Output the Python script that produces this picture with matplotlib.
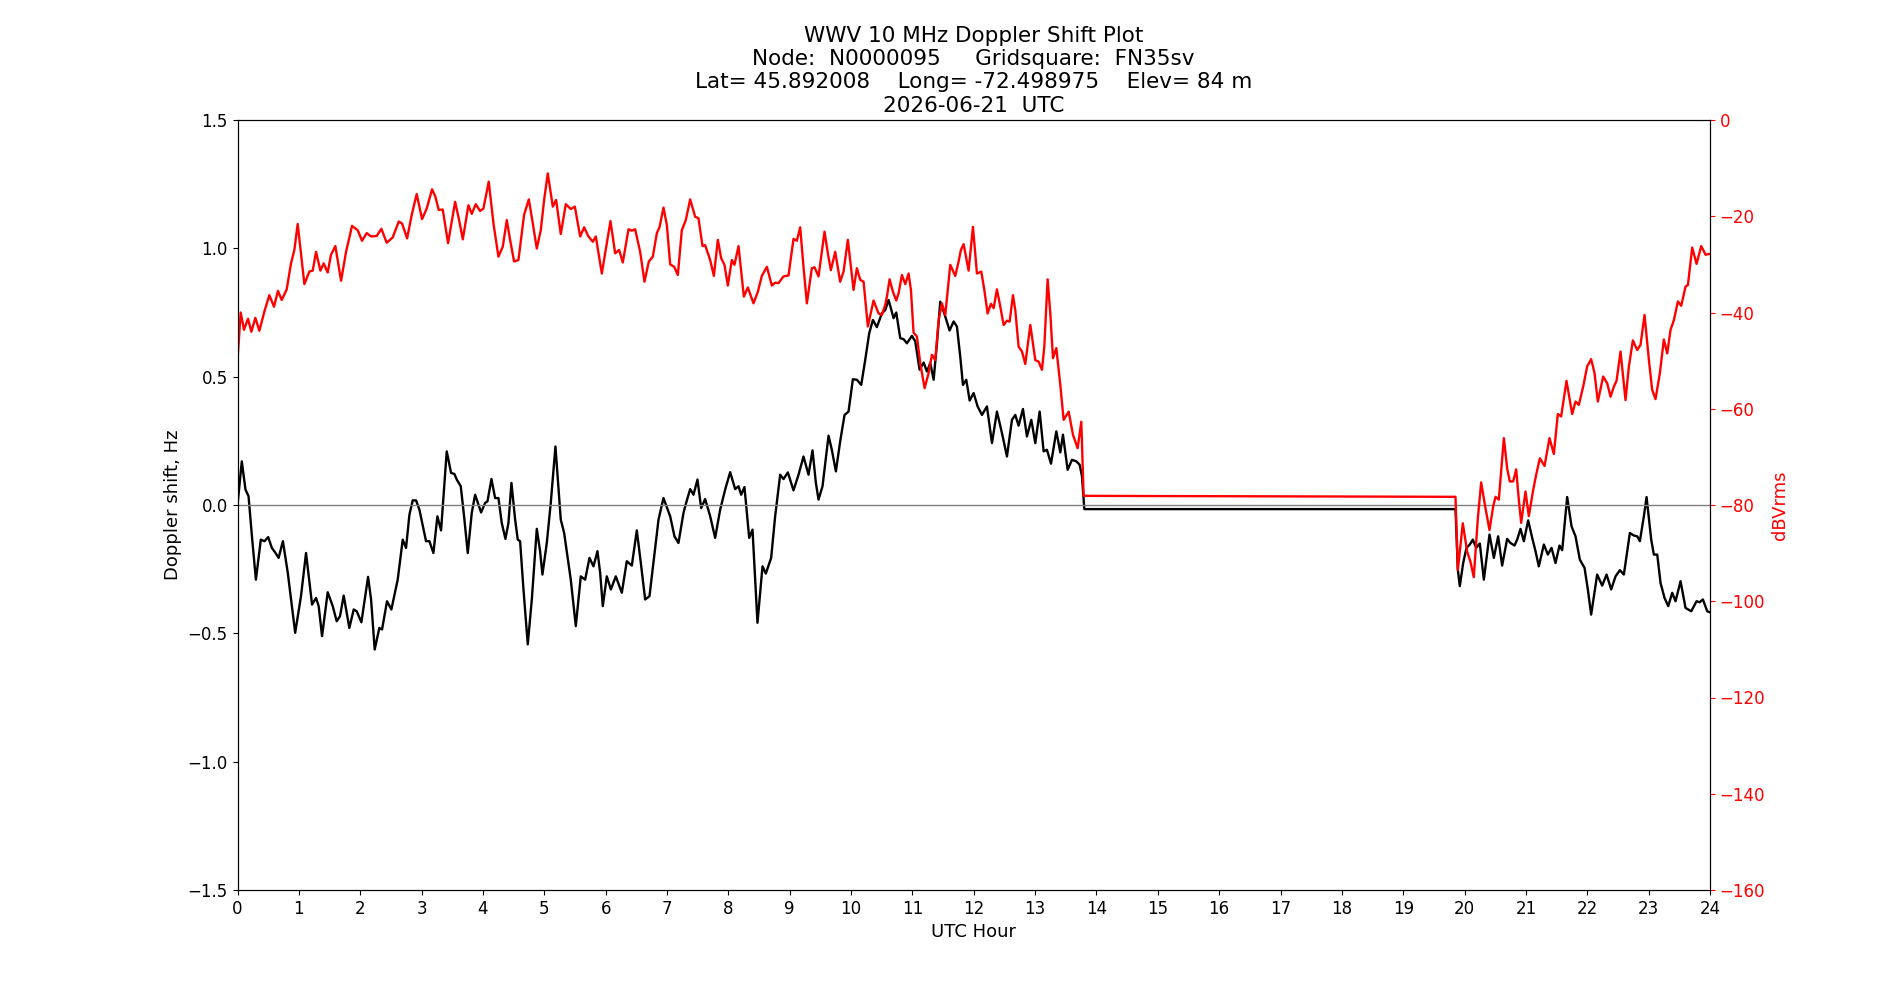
import numpy as np
import matplotlib
matplotlib.use("Agg")
import matplotlib.pyplot as plt

# doppler shift (Hz), by UTC hour
doppler_hours = [0.00, 0.07, 0.13, 0.18, 0.24, 0.30, 0.38, 0.44, 0.50, 0.56, 0.62, 0.67, 0.74, 0.82, 0.94,
                 1.035, 1.117, 1.215, 1.28, 1.323, 1.378, 1.47, 1.552, 1.617, 1.671, 1.731, 1.823, 1.894, 1.943,
                 2.019, 2.128, 2.177, 2.236, 2.312, 2.356, 2.437, 2.508, 2.611, 2.693, 2.747, 2.802, 2.856, 2.910,
                 2.965, 3.073, 3.128, 3.193, 3.258, 3.318, 3.410, 3.481, 3.535, 3.574, 3.639, 3.693, 3.753, 3.818,
                 3.873, 3.927, 3.970, 4.036, 4.074, 4.139, 4.199, 4.253, 4.307, 4.367, 4.416, 4.465, 4.525, 4.568,
                 4.606, 4.661, 4.731, 4.797, 4.878, 4.932, 4.970, 5.041, 5.106, 5.182, 5.269, 5.324, 5.432, 5.514,
                 5.595, 5.666, 5.737, 5.802, 5.867, 5.911, 5.954, 6.019, 6.085, 6.166, 6.264, 6.345, 6.427, 6.508,
                 6.574, 6.644, 6.715, 6.791, 6.862, 6.943, 7.052, 7.122, 7.187, 7.269, 7.312, 7.378, 7.432, 7.497,
                 7.557, 7.622, 7.704, 7.785, 7.867, 7.948, 8.030, 8.111, 8.166, 8.209, 8.263, 8.340, 8.394, 8.475,
                 8.557, 8.611, 8.698, 8.763, 8.845, 8.899, 8.970, 9.062, 9.144, 9.225, 9.307, 9.372, 9.427, 9.470,
                 9.535, 9.633, 9.687, 9.753, 9.823, 9.894, 9.959, 10.030, 10.095, 10.166, 10.231, 10.296, 10.356,
                 10.421, 10.503, 10.558, 10.612, 10.693, 10.737, 10.802, 10.856, 10.911, 10.992, 11.047, 11.117,
                 11.183, 11.237, 11.291, 11.346, 11.400, 11.454, 11.519, 11.606, 11.672, 11.726, 11.780, 11.824,
                 11.878, 11.933, 11.998, 12.063, 12.134, 12.215, 12.297, 12.378, 12.460, 12.541, 12.623, 12.677,
                 12.731, 12.802, 12.867, 12.938, 13.003, 13.074, 13.139, 13.193, 13.259, 13.346, 13.411, 13.454,
                 13.530, 13.601, 13.672, 13.726, 13.764, 13.802, 19.852, 19.890, 19.922, 19.977, 20.031, 20.085,
                 20.134, 20.189, 20.248, 20.314, 20.406, 20.477, 20.547, 20.612, 20.694, 20.748, 20.814, 20.857,
                 20.911, 20.966, 21.036, 21.102, 21.156, 21.210, 21.292, 21.357, 21.417, 21.482, 21.547, 21.591,
                 21.672, 21.743, 21.808, 21.879, 21.955, 22.009, 22.063, 22.161, 22.243, 22.314, 22.390, 22.460,
                 22.531, 22.596, 22.694, 22.759, 22.814, 22.857, 22.922, 22.966, 23.042, 23.085, 23.140, 23.194,
                 23.259, 23.319, 23.384, 23.438, 23.520, 23.601, 23.694, 23.781, 23.830, 23.884, 23.955, 23.998]
doppler_hz = [0.00, 0.17, 0.06, 0.034, -0.135, -0.291, -0.135, -0.141, -0.125, -0.167, -0.187, -0.206, -0.141,
              -0.265, -0.498, -0.355, -0.187, -0.388, -0.362, -0.394, -0.511, -0.340, -0.394, -0.453, -0.433,
              -0.353, -0.479, -0.407, -0.414, -0.457, -0.280, -0.368, -0.563, -0.479, -0.485, -0.375, -0.407,
              -0.291, -0.135, -0.167, -0.038, 0.018, 0.018, -0.018, -0.141, -0.141, -0.187, -0.044, -0.099, 0.209,
              0.125, 0.121, 0.099, 0.073, -0.044, -0.187, -0.031, 0.040, 0.001, -0.029, 0.008, 0.014, 0.101,
              0.027, 0.027, -0.070, -0.132, -0.070, 0.086, -0.057, -0.135, -0.141, -0.329, -0.543, -0.368, -0.093,
              -0.180, -0.271, -0.148, 0.008, 0.228, -0.057, -0.109, -0.291, -0.472, -0.278, -0.291, -0.206,
              -0.239, -0.180, -0.265, -0.394, -0.278, -0.329, -0.278, -0.342, -0.219, -0.236, -0.099, -0.226,
              -0.368, -0.355, -0.200, -0.057, 0.027, -0.044, -0.122, -0.148, -0.031, 0.008, 0.062, 0.040, 0.099,
              -0.012, 0.023, -0.044, -0.128, -0.018, 0.060, 0.128, 0.062, 0.073, 0.040, 0.070, -0.128, -0.096,
              -0.459, -0.239, -0.267, -0.206, -0.044, 0.118, 0.101, 0.127, 0.057, 0.118, 0.189, 0.118, 0.213,
              0.086, 0.021, 0.073, 0.270, 0.215, 0.131, 0.248, 0.351, 0.364, 0.490, 0.488, 0.468, 0.565, 0.669,
              0.721, 0.693, 0.747, 0.760, 0.799, 0.728, 0.750, 0.650, 0.646, 0.630, 0.659, 0.637, 0.527, 0.555,
              0.520, 0.553, 0.488, 0.630, 0.792, 0.747, 0.680, 0.715, 0.695, 0.578, 0.468, 0.488, 0.407, 0.436,
              0.384, 0.351, 0.384, 0.241, 0.364, 0.280, 0.189, 0.332, 0.351, 0.309, 0.374, 0.267, 0.332, 0.241,
              0.364, 0.209, 0.215, 0.161, 0.287, 0.205, 0.274, 0.137, 0.176, 0.170, 0.157, 0.112, -0.016, -0.016,
              -0.252, -0.316, -0.226, -0.167, -0.154, -0.135, -0.167, -0.150, -0.291, -0.115, -0.206, -0.122,
              -0.236, -0.132, -0.148, -0.158, -0.135, -0.093, -0.141, -0.060, -0.128, -0.180, -0.239, -0.154,
              -0.193, -0.167, -0.226, -0.158, -0.176, 0.031, -0.083, -0.122, -0.213, -0.245, -0.329, -0.427,
              -0.271, -0.314, -0.271, -0.329, -0.278, -0.254, -0.271, -0.109, -0.119, -0.122, -0.141, -0.044,
              0.031, -0.135, -0.193, -0.193, -0.304, -0.362, -0.394, -0.342, -0.375, -0.297, -0.401, -0.414,
              -0.375, -0.379, -0.368, -0.414, -0.418]

# received level (dBVrms) by UTC hour
power_hours = [0.00, 0.052, 0.106, 0.171, 0.226, 0.291, 0.356, 0.438, 0.519, 0.595, 0.660, 0.720, 0.802, 0.872,
               0.927, 0.981, 1.035, 1.090, 1.171, 1.226, 1.280, 1.351, 1.405, 1.470, 1.524, 1.595, 1.688, 1.769,
               1.867, 1.959, 2.030, 2.106, 2.177, 2.269, 2.345, 2.432, 2.530, 2.628, 2.682, 2.764, 2.845, 2.921,
               3.008, 3.084, 3.171, 3.225, 3.280, 3.345, 3.432, 3.547, 3.612, 3.672, 3.764, 3.818, 3.883, 3.954,
               4.008, 4.095, 4.172, 4.253, 4.324, 4.389, 4.443, 4.508, 4.579, 4.671, 4.748, 4.813, 4.878, 4.943,
               4.998, 5.057, 5.139, 5.193, 5.269, 5.351, 5.432, 5.498, 5.585, 5.650, 5.715, 5.791, 5.840, 5.938,
               6.019, 6.079, 6.155, 6.220, 6.280, 6.373, 6.427, 6.481, 6.563, 6.633, 6.704, 6.769, 6.835, 6.878,
               6.943, 6.998, 7.052, 7.117, 7.177, 7.242, 7.307, 7.378, 7.459, 7.513, 7.579, 7.622, 7.704, 7.764,
               7.829, 7.883, 7.937, 7.992, 8.057, 8.100, 8.166, 8.253, 8.318, 8.410, 8.481, 8.546, 8.628, 8.709,
               8.763, 8.818, 8.899, 8.981, 9.062, 9.117, 9.171, 9.225, 9.280, 9.361, 9.405, 9.470, 9.568, 9.622,
               9.671, 9.742, 9.823, 9.878, 9.948, 10.041, 10.095, 10.149, 10.204, 10.274, 10.367, 10.448, 10.503,
               10.557, 10.585, 10.628, 10.683, 10.737, 10.775, 10.829, 10.884, 10.938, 10.976, 11.019, 11.074,
               11.128, 11.199, 11.264, 11.318, 11.373, 11.427, 11.481, 11.536, 11.617, 11.699, 11.753, 11.791,
               11.835, 11.916, 11.987, 12.052, 12.123, 12.172, 12.226, 12.280, 12.324, 12.378, 12.433, 12.487,
               12.541, 12.585, 12.639, 12.677, 12.731, 12.786, 12.840, 12.922, 13.003, 13.057, 13.112, 13.150,
               13.204, 13.248, 13.291, 13.346, 13.411, 13.465, 13.547, 13.617, 13.693, 13.753, 13.791, 19.852,
               19.890, 19.971, 20.042, 20.096, 20.150, 20.216, 20.270, 20.341, 20.406, 20.466, 20.504, 20.558,
               20.640, 20.694, 20.737, 20.792, 20.841, 20.884, 20.922, 20.993, 21.047, 21.118, 21.172, 21.227,
               21.303, 21.384, 21.455, 21.520, 21.574, 21.661, 21.754, 21.808, 21.862, 21.933, 21.998, 22.063,
               22.118, 22.172, 22.259, 22.324, 22.379, 22.433, 22.477, 22.542, 22.623, 22.678, 22.743, 22.814,
               22.868, 22.933, 23.004, 23.058, 23.112, 23.183, 23.248, 23.303, 23.357, 23.411, 23.477, 23.531,
               23.602, 23.640, 23.710, 23.781, 23.857, 23.928, 23.998]
power_db = [-49.9, -40.0, -43.6, -41.3, -44.0, -41.1, -43.8, -39.8, -36.4, -38.8, -35.5, -37.4, -35.2, -29.8,
            -27.0, -21.6, -27.7, -34.1, -31.5, -31.3, -27.4, -31.3, -29.8, -31.7, -28.0, -26.2, -33.4, -27.4,
            -22.0, -22.9, -25.1, -23.5, -24.2, -24.1, -22.6, -25.5, -24.4, -21.1, -21.5, -24.6, -19.4, -15.4,
            -20.6, -18.4, -14.4, -15.9, -18.7, -18.6, -25.6, -17.0, -20.8, -24.8, -17.7, -19.5, -17.5, -18.9,
            -18.4, -12.8, -21.5, -28.4, -26.3, -20.8, -24.9, -29.4, -29.1, -19.7, -16.5, -21.5, -26.7, -22.9,
            -16.6, -11.1, -18.0, -16.6, -23.7, -17.5, -18.5, -18.0, -24.2, -22.3, -24.1, -25.3, -24.2, -31.9,
            -25.6, -21.0, -27.7, -27.0, -29.6, -22.7, -23.0, -22.7, -27.4, -33.6, -29.4, -28.4, -23.5, -22.3,
            -18.2, -21.8, -30.0, -30.5, -32.2, -22.9, -20.8, -16.5, -20.1, -20.4, -26.2, -26.0, -29.1, -32.4,
            -24.9, -28.7, -30.1, -34.4, -29.1, -30.1, -26.2, -36.7, -34.8, -38.1, -35.7, -32.4, -30.5, -34.4,
            -33.8, -33.9, -32.5, -32.3, -24.7, -25.1, -22.3, -30.5, -38.1, -30.8, -30.6, -32.5, -23.2, -27.7,
            -31.2, -27.4, -33.6, -31.5, -24.9, -35.3, -30.8, -33.2, -33.6, -42.9, -37.5, -40.2, -40.5,
            -38.4, -36.7, -33.1, -35.7, -37.5, -36.0, -32.2, -34.1, -31.9, -35.3, -44.2, -45.0,
            -50.6, -55.7, -52.6, -48.8, -49.9, -41.6, -38.1, -40.5, -30.1, -32.4, -29.4, -27.0,
            -25.8, -31.3, -22.2, -31.9, -31.5, -35.3, -40.2, -38.2, -39.1, -35.2, -38.8, -42.6,
            -41.7, -41.9, -36.4, -39.5, -47.1, -48.1, -50.7, -42.6, -49.9, -50.2, -51.9, -47.1,
            -33.1, -40.2, -49.5, -47.4, -55.1, -62.3, -60.6, -65.4, -68.2, -62.7, -78.1, -78.3,
            -93.5, -83.8, -89.7, -91.8, -95.0, -82.8, -75.3, -80.7, -85.2, -80.3, -78.3, -78.9,
            -66.1, -72.4, -75.1, -75.1, -72.6, -78.9, -83.7, -77.2, -82.3, -76.9, -73.4, -70.3,
            -71.9, -66.1, -69.4, -61.1, -61.6, -54.2, -61.1, -58.5, -59.2, -55.4, -51.2, -49.7,
            -52.6, -58.5, -53.3, -54.7, -57.5, -55.4, -54.2, -48.1, -58.2, -51.2, -45.8, -47.8,
            -46.7, -40.5, -49.9, -56.1, -58.0, -52.6, -45.6, -48.5, -43.6, -41.6, -37.7, -38.6,
            -34.6, -34.3, -26.5, -29.9, -26.2, -28.0, -27.8]

title = ("WWV 10 MHz Doppler Shift Plot\n"
         "Node:  N0000095     Gridsquare:  FN35sv\n"
         "Lat= 45.892008    Long= -72.498975    Elev= 84 m\n"
         "2026-06-21  UTC")

plt.rcParams['font.size'] = 12

fig = plt.figure(figsize=(19, 10), dpi=100)
fig.subplots_adjust(left=0.125, right=0.9, top=0.88, bottom=0.11)
ax = fig.add_subplot(111)

ax.plot(doppler_hours, doppler_hz, color='k', linewidth=1.7)
ax.axhline(0, color='grey', linewidth=1)
ax.set_xlim(0, 24)
ax.set_ylim(-1.5, 1.5)
ax.set_xticks(np.arange(0, 25, 1))
ax.set_xlabel("UTC Hour", fontsize=13)
ax.set_ylabel("Doppler shift, Hz", fontsize=13)
ax.set_title(title, fontsize=15.5)

ax2 = ax.twinx()
ax2.plot(power_hours, power_db, color='r', linewidth=1.7)
ax2.set_ylim(-160, 0)
ax2.set_ylabel("dBVrms", color='r', fontsize=13)
ax2.tick_params(axis='y', colors='r')
ax2.spines['right'].set_color('k')

fig.savefig("out.png", dpi=100)
